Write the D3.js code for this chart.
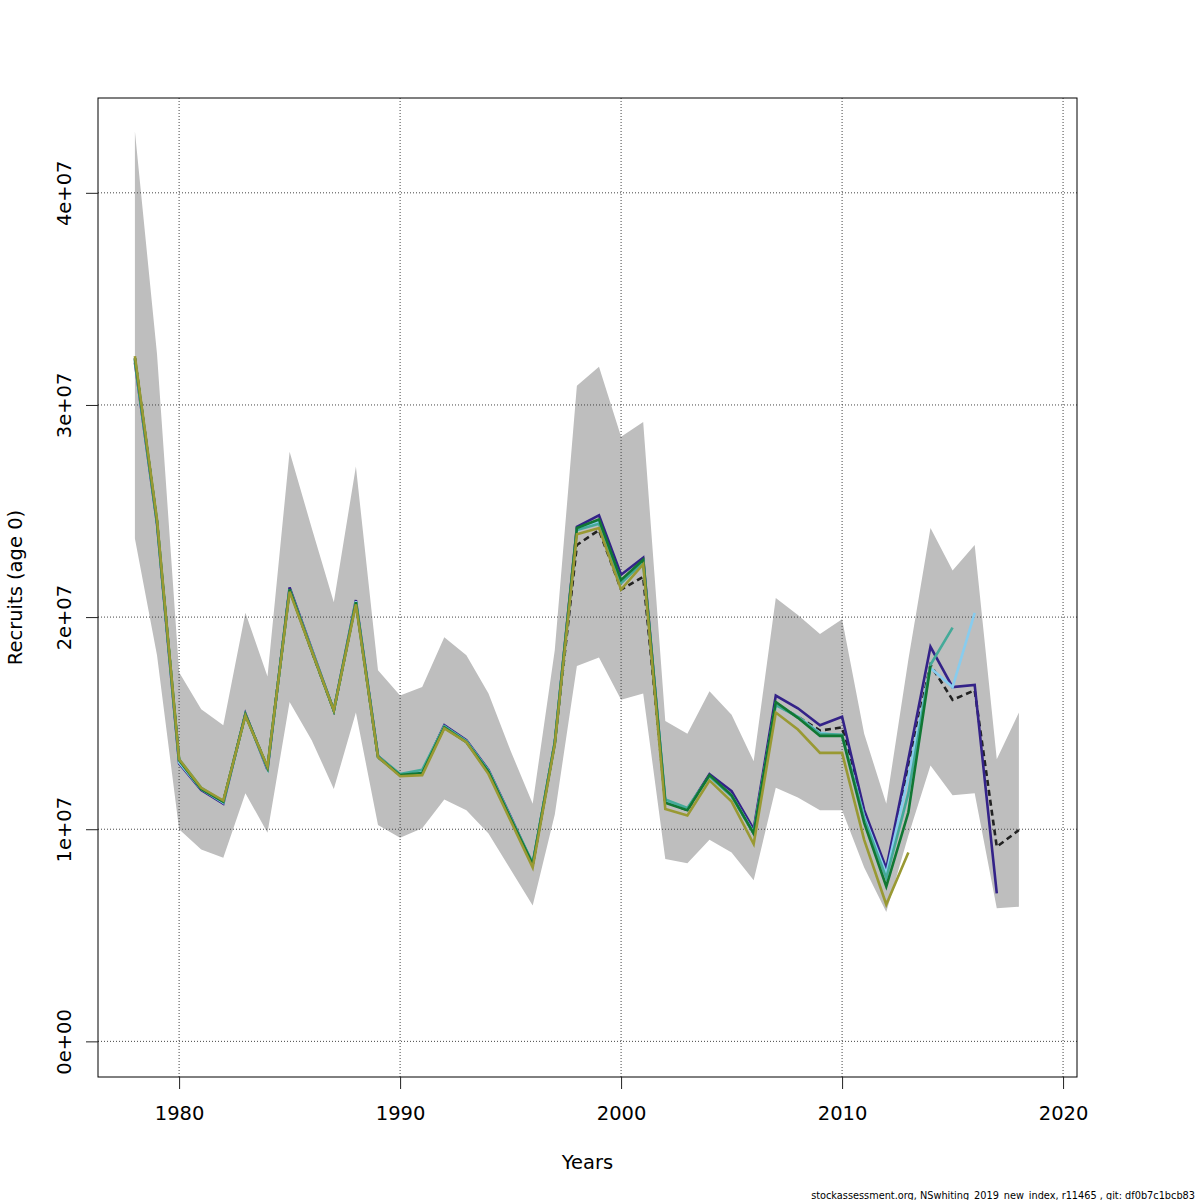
<!DOCTYPE html>
<html>
<head>
<meta charset="utf-8">
<script src="https://cdn.jsdelivr.net/npm/d3@7"></script>
<style>
  body { margin: 0; background: #fff; overflow: hidden; }
  text { font-family: "DejaVu Sans", sans-serif; fill: #000; }
</style>
</head>
<body>
<div id="chart"></div>
<script>
// recruits in millions
const years = d3.range(1978, 2019);
const tickYears = [1980, 1990, 2000, 2010, 2020];
const tickValues = [0, 10, 20, 30, 40];
const tickLabels = ["0e+00", "1e+07", "2e+07", "3e+07", "4e+07"];

const bandLow = [23.7, 18.2, 10.0, 9.05, 8.66, 11.7, 9.83, 16.0, 14.2, 11.9, 15.5, 10.2, 9.6, 10.05, 11.4, 10.9, 9.8, 8.1, 6.4, 10.7,
  17.7, 18.1, 16.1, 16.4, 8.6, 8.4, 9.5, 8.9, 7.6, 11.96, 11.5, 10.9, 10.9, 8.2, 6.1, 9.7, 13.0, 11.6, 11.7, 6.27, 6.35];
const bandHigh = [42.9, 32.4, 17.4, 15.65, 14.9, 20.2, 17.2, 27.8, 24.2, 20.7, 27.1, 17.5, 16.3, 16.7, 19.05, 18.2, 16.4, 13.7, 11.2, 18.45,
  30.9, 31.8, 28.5, 29.2, 15.1, 14.5, 16.5, 15.4, 13.2, 20.9, 20.1, 19.2, 19.9, 14.5, 11.2, 18.0, 24.2, 22.2, 23.4, 13.3, 15.5];

const base = [32.2, 24.5, 13.2, 11.9, 11.3, 15.4, 12.9, 21.3, 18.4, 15.6, 20.7, 13.4, 12.55, 12.7, 14.85, 14.15, 12.7, 10.5, 8.3, 14.1,
  23.4, 24.1, 21.3, 21.9, 11.3, 10.9, 12.55, 11.6, 9.8, 15.9, 15.3, 14.65, 14.8, 10.75, 7.9, 12.95, 17.75, 16.1, 16.55, 9.17, 9.96];
const peel1 = [32.0, 24.4, 13.1, 11.85, 11.2, 15.45, 12.8, 21.4, 18.5, 15.6, 20.8, 13.45, 12.55, 12.7, 14.9, 14.2, 12.8, 10.6, 8.35, 14.1,
  24.25, 24.8, 22.0, 22.8, 11.3, 10.95, 12.6, 11.8, 10.0, 16.3, 15.7, 14.9, 15.3, 10.9, 8.15, 13.3, 18.6, 16.7, 16.8, 6.98];
const peel2 = [32.1, 24.45, 13.15, 11.9, 11.25, 15.4, 12.85, 21.3, 18.45, 15.6, 20.75, 13.4, 12.55, 12.75, 14.85, 14.15, 12.75, 10.55, 8.35, 14.1,
  24.1, 24.5, 21.7, 22.6, 11.35, 10.95, 12.5, 11.6, 9.85, 15.9, 15.3, 14.55, 14.4, 10.6, 7.9, 12.5, 17.6, 16.7, 20.2];
const peel3 = [32.1, 24.5, 13.3, 11.95, 11.3, 15.4, 12.9, 21.3, 18.45, 15.6, 20.7, 13.45, 12.6, 12.8, 14.85, 14.15, 12.75, 10.55, 8.4, 14.1,
  24.1, 24.4, 21.6, 22.6, 11.4, 11.0, 12.5, 11.55, 9.8, 15.85, 15.3, 14.5, 14.45, 10.5, 7.7, 11.7, 17.75, 19.5];
const peel4 = [32.2, 24.5, 13.25, 11.9, 11.3, 15.4, 12.9, 21.3, 18.4, 15.6, 20.7, 13.4, 12.55, 12.65, 14.8, 14.1, 12.7, 10.5, 8.35, 14.05,
  24.2, 24.6, 21.75, 22.7, 11.25, 10.9, 12.55, 11.6, 9.8, 16.0, 15.25, 14.4, 14.4, 10.3, 7.3, 10.8, 17.7];
const peel5 = [32.3, 24.6, 13.3, 11.95, 11.35, 15.35, 12.95, 21.2, 18.4, 15.6, 20.6, 13.4, 12.5, 12.55, 14.75, 14.1, 12.6, 10.4, 8.2, 14.0,
  23.9, 24.2, 21.3, 22.5, 10.95, 10.65, 12.3, 11.3, 9.3, 15.5, 14.7, 13.6, 13.6, 9.5, 6.45, 8.9];

const peels = [
  { values: peel1, color: "#332288" },
  { values: peel2, color: "#88CCEE" },
  { values: peel3, color: "#44AA99" },
  { values: peel4, color: "#117733" },
  { values: peel5, color: "#999933" }
];

const width = 1200, height = 1200;
const plotLeft = 98, plotRight = 1077, plotTop = 98, plotBottom = 1077;

const svg = d3.select("#chart").append("svg")
    .attr("width", width)
    .attr("height", height)
    .style("display", "block");

const x = d3.scaleLinear().domain([1976.33, 2020.63]).range([plotLeft, plotRight]);
const y = d3.scaleLinear().domain([-1.68, 44.47]).range([plotBottom, plotTop]);

// confidence band
const area = d3.area()
    .x((d, i) => x(years[i]))
    .y0((d, i) => y(bandLow[i]))
    .y1((d, i) => y(bandHigh[i]));

svg.append("path")
    .datum(bandLow)
    .attr("d", area)
    .attr("fill", "#BEBEBE");

// grid
svg.append("g").selectAll("line")
    .data(tickValues)
    .join("line")
    .attr("x1", plotLeft).attr("x2", plotRight)
    .attr("y1", d => y(d)).attr("y2", d => y(d))
    .attr("stroke", "#444").attr("stroke-width", 1)
    .attr("stroke-dasharray", "1,2");

svg.append("g").selectAll("line")
    .data(tickYears)
    .join("line")
    .attr("x1", d => x(d)).attr("x2", d => x(d))
    .attr("y1", plotTop).attr("y2", plotBottom)
    .attr("stroke", "#444").attr("stroke-width", 1)
    .attr("stroke-dasharray", "1,2");

const line = d3.line()
    .x((d, i) => x(years[i]))
    .y(d => y(d));

// base run, then the peels on top
svg.append("path")
    .datum(base)
    .attr("d", line)
    .attr("fill", "none")
    .attr("stroke", "#222")
    .attr("stroke-width", 2.6)
    .attr("stroke-dasharray", "6,4");

peels.forEach(p => {
    svg.append("path")
        .datum(p.values)
        .attr("d", line)
        .attr("fill", "none")
        .attr("stroke", p.color)
        .attr("stroke-width", 2.6);
});

// box
svg.append("rect")
    .attr("x", plotLeft).attr("y", plotTop)
    .attr("width", plotRight - plotLeft).attr("height", plotBottom - plotTop)
    .attr("fill", "none").attr("stroke", "#000").attr("stroke-width", 1);

// axes
const xAxis = svg.append("g")
    .attr("transform", `translate(0,${plotBottom})`)
    .call(d3.axisBottom(x).tickValues(tickYears).tickFormat(d3.format("d")).tickSize(12).tickPadding(17));
xAxis.select(".domain").remove();
xAxis.selectAll("line").attr("stroke", "#222");
xAxis.selectAll("text").attr("font-size", 19.5).attr("font-family", "DejaVu Sans").attr("fill", "#000");

const yAxis = svg.append("g")
    .attr("transform", `translate(${plotLeft},0)`)
    .call(d3.axisLeft(y).tickValues(tickValues).tickFormat((d, i) => tickLabels[i]).tickSize(12));
yAxis.select(".domain").remove();
yAxis.selectAll("line").attr("stroke", "#222");
yAxis.selectAll("text")
    .attr("font-size", 19.5)
    .attr("font-family", "DejaVu Sans")
    .attr("fill", "#000")
    .attr("text-anchor", "middle")
    .attr("dy", null)
    .attr("x", null)
    .attr("transform", "translate(-27,0) rotate(-90)");

// axis titles
svg.append("text")
    .attr("x", (plotLeft + plotRight) / 2).attr("y", 1169)
    .attr("text-anchor", "middle")
    .attr("font-size", 19.5)
    .text("Years");

svg.append("text")
    .attr("transform", `translate(22,${(plotTop + plotBottom) / 2}) rotate(-90)`)
    .attr("text-anchor", "middle")
    .attr("font-size", 19.5)
    .text("Recruits (age 0)");

// footer, sits on the bottom edge so the underscores are cut off as in the original
svg.append("text")
    .attr("x", 1195).attr("y", 1198.6)
    .attr("text-anchor", "end")
    .attr("font-size", 9.75)
    .text("stockassessment.org, NSwhiting_2019_new_index, r11465 , git: df0b7c1bcb83");
</script>
</body>
</html>
